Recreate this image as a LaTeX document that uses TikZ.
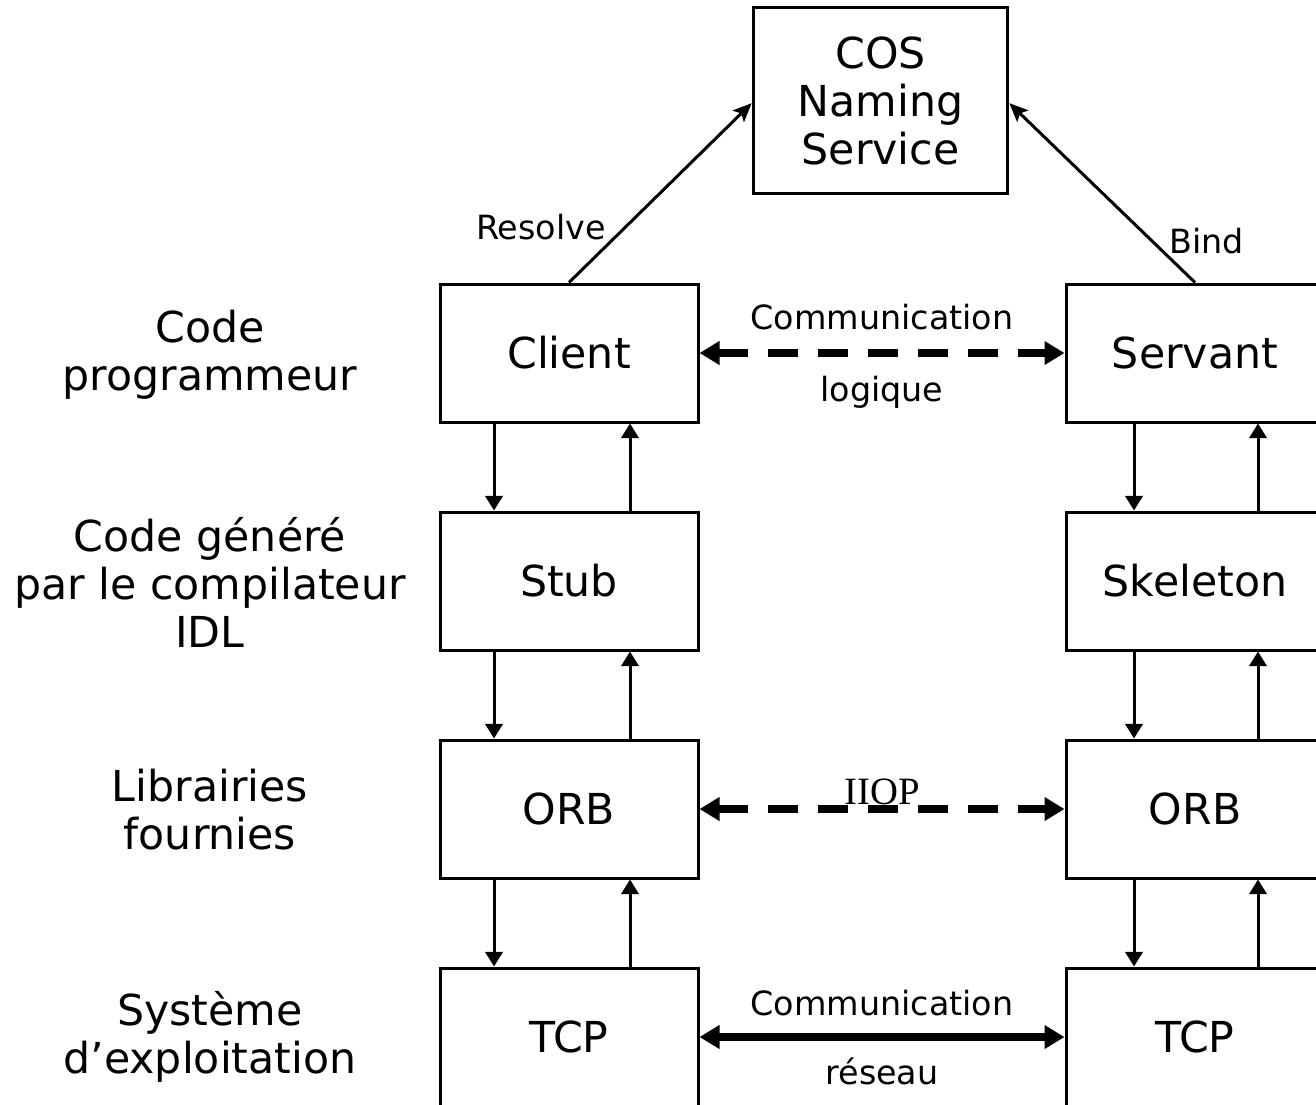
\documentclass[tikz,border=0pt]{standalone}
\usepackage{fontspec}
\setmainfont{DejaVu Sans}
\newfontfamily\iiopfont{Liberation Serif}
\usetikzlibrary{positioning,arrows.meta}

\tikzset{
    layer/.style={draw, line width=2.25pt, minimum width=193.5pt, minimum height=103.5pt,
        align=center, font=\fontsize{32}{36}\selectfont},
    levellabel/.style={align=center, font=\fontsize{32}{36}\selectfont},
    small/.style={font=\fontsize{25}{30}\selectfont},
    call/.style={line width=2.25pt, -{Triangle[length=11pt,width=13pt]}},
    lookup/.style={line width=2.25pt, -{Stealth[length=14pt,width=12pt,inset=3pt]}},
    logical/.style={line width=6pt, dash pattern=on 22.5pt off 15pt,
        {Triangle[length=15pt,width=17pt]}-{Triangle[length=15pt,width=17pt]}},
    physical/.style={line width=6pt,
        {Triangle[length=15pt,width=17pt]}-{Triangle[length=15pt,width=17pt]}}
}

\begin{document}
\begin{tikzpicture}[x=0.75pt,y=-0.75pt,node distance=171pt and 469.5pt,on grid]
    \clip (0,0) rectangle (1316,1104);

    % client side
    \node[layer] (client) at (569,353) {Client};
    \node[layer] (stub) [below=of client] {Stub};
    \node[layer] (orbc) [below=of stub] {ORB};
    \node[layer] (tcpc) [below=of orbc] {TCP};

    % server side
    \node[layer] (servant) [right=of client] {Servant};
    \node[layer] (skeleton) [below=of servant] {Skeleton};
    \node[layer] (orbs) [below=of skeleton] {ORB};
    \node[layer] (tcps) [below=of orbs] {TCP};

    \node[layer, minimum width=191pt, minimum height=139pt] (cos) at (880.5,100.5)
        {COS\\Naming\\Service};

    % levels
    \node[levellabel] (lprog) at (210,355) {Code\\programmeur};
    \node[levellabel] (lidl) at (210,582) {Code généré\\par le compilateur\\IDL};
    \node[levellabel] (llib) at (210,810) {Librairies\\fournies};
    \node[levellabel] (los) at (210,1037) {Système\\d’exploitation};

    \foreach \a/\b in {client/stub,stub/orbc,orbc/tcpc} {
        \draw[call] ([xshift=-56.25pt]\a.south) -- ([xshift=-56.25pt]\b.north);
        \draw[call] ([xshift=45.75pt]\b.north) -- ([xshift=45.75pt]\a.south);
    }
    \foreach \a/\b in {servant/skeleton,skeleton/orbs,orbs/tcps} {
        \draw[call] ([xshift=-45.75pt]\a.south) -- ([xshift=-45.75pt]\b.north);
        \draw[call] ([xshift=47.25pt]\b.north) -- ([xshift=47.25pt]\a.south);
    }

    \draw[lookup] (client.north) -- ([yshift=-2pt]cos.west)
        node[small, pos=0.31, anchor=east, xshift=-10.5pt] {Resolve};
    \draw[lookup] (servant.north) -- ([yshift=-2pt]cos.east)
        node[small, pos=0.233, anchor=west, xshift=9pt] {Bind};

    \draw[logical] (client.east) -- (servant.west)
        node[small, midway, yshift=26.6pt] {Communication}
        node[small, midway, yshift=-29.5pt] {logique};
    \draw[logical] (orbc.east) -- (orbs.west)
        node[midway, yshift=13pt, font=\iiopfont\fontsize{29}{34}\selectfont] {IIOP};
    \draw[physical] (tcpc.east) -- (tcps.west)
        node[small, midway, yshift=25.5pt] {Communication}
        node[small, midway, yshift=-26pt] {réseau};
\end{tikzpicture}
\end{document}
